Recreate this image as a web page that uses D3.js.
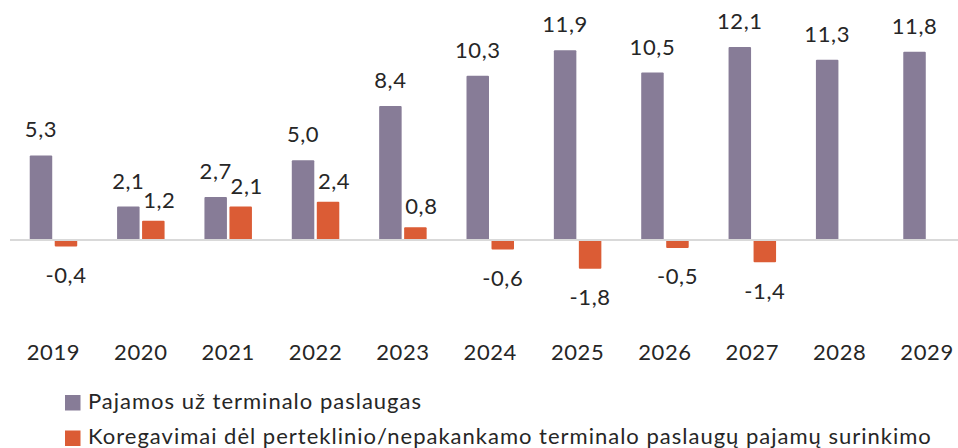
<!DOCTYPE html>
<html>
<head>
<meta charset="utf-8">
<script src="https://cdn.jsdelivr.net/npm/d3@7/dist/d3.min.js"></script>
<style>
  html, body { margin: 0; padding: 0; background: #ffffff; }
  svg { display: block; font-family: Lato, "Open Sans", sans-serif; }
</style>
</head>
<body>
<svg id="chart" width="958" height="448"></svg>
<script>
// Categories and series
const years = ["2019", "2020", "2021", "2022", "2023", "2024", "2025", "2026", "2027", "2028", "2029"];
const revenue = [5.3, 2.1, 2.7, 5.0, 8.4, 10.3, 11.9, 10.5, 12.1, 11.3, 11.8];
const adjustments = [-0.4, 1.2, 2.1, 2.4, 0.8, -0.6, -1.8, -0.5, -1.4, null, null];
const seriesNames = [
  "Pajamos už terminalo paslaugas",
  "Koregavimai dėl perteklinio/nepakankamo terminalo paslaugų pajamų surinkimo"
];
const seriesColors = ["#877c97", "#db5c35"];

const svg = d3.select("#chart");
const W = 958, H = 448;
const FONT = 22;

const fmt = v => d3.format(".1f")(v).replace(".", ",").replace("−", "-");

// Scales
const x0 = d3.scaleBand().domain(years).range([9.8, 970.7]).padding(0);
const groupW = 47.5;
const x1 = d3.scaleBand().domain([0, 1]).range([0, groupW]).paddingInner(0.1);
const y = d3.scaleLinear().domain([-2.5, 13]).range([240 + 2.5 * 15.95, 240 - 13 * 15.95]);

const groupLeft = d => x0(d) + x0.bandwidth() / 2 - groupW / 2;

const rows = years.map((yr, i) => ({ year: yr, values: [revenue[i], adjustments[i]] }));

const plot = svg.append("g");

// Bars
rows.forEach(r => {
  r.values.forEach((v, s) => {
    if (v === null || v === undefined) return;
    plot.append("rect")
      .attr("x", groupLeft(r.year) + x1(s))
      .attr("width", x1.bandwidth())
      .attr("y", Math.min(y(v), y(0)))
      .attr("height", Math.abs(y(v) - y(0)))
      .attr("fill", seriesColors[s])
      .attr("rx", 1);
  });
});

// Zero line
plot.append("line")
  .attr("x1", 10).attr("x2", W)
  .attr("y1", y(0)).attr("y2", y(0))
  .attr("stroke", "#d9d9d9").attr("stroke-width", 2);

// Value labels
rows.forEach(r => {
  r.values.forEach((v, s) => {
    if (v === null || v === undefined) return;
    const cx = groupLeft(r.year) + x1(s) + x1.bandwidth() / 2;
    let ty, dx = 0;
    if (v < 0) ty = y(v) + 36.5;
    else if (s === 0) ty = y(v) - 18;
    else { ty = y(v) - 13; dx = 6; }
    plot.append("text")
      .attr("x", cx + dx).attr("y", ty)
      .attr("text-anchor", "middle")
      .attr("font-size", FONT)
      .attr("letter-spacing", 0.6)
      .attr("fill", "#262626")
      .text(fmt(v));
  });
});

// Category axis (labels only)
const xAxis = d3.axisBottom(x0).tickSize(0).tickPadding(0);
const axisG = svg.append("g").attr("transform", "translate(0,344.5)").call(xAxis);
axisG.select(".domain").remove();
axisG.selectAll("text")
  .attr("font-size", FONT)
  .attr("font-family", "Lato, 'Open Sans', sans-serif")
  .attr("letter-spacing", 0.6)
  .attr("fill", "#262626")
  .attr("dy", "0.71em");

// Legend
const legend = svg.append("g");
seriesNames.forEach((name, i) => {
  const ly = 395 + i * 35.5;
  legend.append("rect")
    .attr("x", 65).attr("y", ly)
    .attr("width", 15.5).attr("height", 15.5)
    .attr("fill", seriesColors[i]);
  legend.append("text")
    .attr("x", 88).attr("y", ly + 13.5)
    .attr("font-size", FONT)
    .attr("letter-spacing", 1)
    .attr("fill", "#262626")
    .text(name);
});
</script>
</body>
</html>
